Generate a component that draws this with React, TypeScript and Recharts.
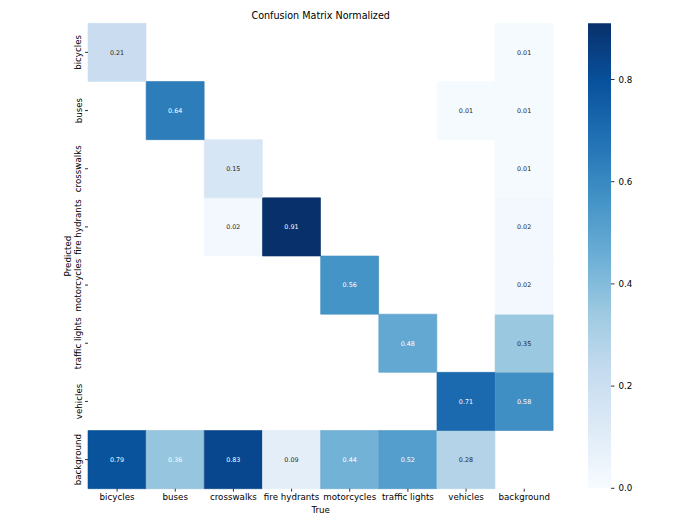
import { BarChart, Bar, XAxis, YAxis, Cell, LabelList } from 'recharts';

const trueLabels = ['bicycles', 'buses', 'crosswalks', 'fire hydrants', 'motorcycles', 'traffic lights', 'vehicles', 'background'];
const predLabels = ['bicycles', 'buses', 'crosswalks', 'fire hydrants', 'motorcycles', 'traffic lights', 'vehicles', 'background'];

// one row per predicted class, columns follow trueLabels
const bicyclesRow = [0.21, 0, 0, 0, 0, 0, 0, 0.01];
const busesRow = [0, 0.64, 0, 0, 0, 0, 0.01, 0.01];
const crosswalksRow = [0, 0, 0.15, 0, 0, 0, 0, 0.01];
const fireHydrantsRow = [0, 0, 0.02, 0.91, 0, 0, 0, 0.02];
const motorcyclesRow = [0, 0, 0, 0, 0.56, 0, 0, 0.02];
const trafficLightsRow = [0, 0, 0, 0, 0, 0.48, 0, 0.35];
const vehiclesRow = [0, 0, 0, 0, 0, 0, 0.71, 0.58];
const backgroundRow = [0.79, 0.36, 0.83, 0.09, 0.44, 0.52, 0.28, 0];

const matrix = [bicyclesRow, busesRow, crosswalksRow, fireHydrantsRow, motorcyclesRow, trafficLightsRow, vehiclesRow, backgroundRow];

const colorMax = 0.91;
const colorTicks = [0, 0.2, 0.4, 0.6, 0.8];
const lightTextBelow = 0.355;

// matplotlib "Blues"
const blues = ['#f7fbff', '#deebf7', '#c6dbef', '#9ecae1', '#6baed6', '#4292c6', '#2171b5', '#08519c', '#08306b'];

const FONT = '"DejaVu Sans", sans-serif';

function hexToRgb(h: string) {
  return [1, 3, 5].map((i) => parseInt(h.slice(i, i + 2), 16));
}

function blueColor(v: number, shade = 1) {
  const t = Math.max(0, Math.min(1, v / colorMax)) * (blues.length - 1);
  const i = Math.min(Math.floor(t), blues.length - 2);
  const f = t - i;
  const a = hexToRgb(blues[i]);
  const b = hexToRgb(blues[i + 1]);
  const c = a.map((x, k) => Math.round((x + (b[k] - x) * f) * shade));
  return `rgb(${c[0]},${c[1]},${c[2]})`;
}

// each column is one category, every row stacked as a unit block
const heatData = trueLabels.map((name) => {
  const d: Record<string, string | number> = { name };
  predLabels.forEach((_, i) => {
    d[`r${i}`] = 1;
  });
  return d;
});

const yTicks = predLabels.map((_, i) => predLabels.length - i - 0.5);

const XTick = (props: any) => {
  const { x, y, payload } = props;
  return (
    <text x={x} y={y + 6} textAnchor="middle" fontSize={8.7} fontFamily={FONT} fill="#000">
      {payload.value}
    </text>
  );
};

const YTick = (props: any) => {
  const { x, y, payload } = props;
  const label = predLabels[predLabels.length - 1 - Math.floor(payload.value)];
  return (
    <text x={x} y={y} transform={`rotate(-90 ${x} ${y})`} textAnchor="middle" fontSize={8.7} fontFamily={FONT} fill="#000">
      {label}
    </text>
  );
};

const rowOrder = predLabels.map((_, i) => predLabels.length - 1 - i);

export default function App() {
  return (
    <div style={{ position: 'absolute', left: 0, top: 0, width: 700, height: 525, background: '#fff' }}>
      <div style={{ position: 'absolute', left: 0, top: 0 }}>
        <BarChart
          width={700}
          height={525}
          data={heatData}
          margin={{ top: 23.3, right: 146.7, bottom: 6.3, left: 58 }}
          barCategoryGap={0}
          barGap={0}
        >
          <XAxis
            dataKey="name"
            height={30}
            axisLine={false}
            tickSize={3}
            tickMargin={2}
            tickLine={{ stroke: '#000', strokeWidth: 0.8 }}
            tick={<XTick />}
            interval={0}
          />
          <YAxis
            type="number"
            domain={[0, 8]}
            ticks={yTicks}
            width={30}
            axisLine={false}
            tickSize={3}
            tickMargin={3.5}
            tickLine={{ stroke: '#000', strokeWidth: 0.8 }}
            tick={<YTick />}
            interval={0}
          />
          {rowOrder.map((i) => (
            <Bar key={i} dataKey={`r${i}`} stackId="cm" isAnimationActive={false}>
              {matrix[i].map((v, j) => (
                <Cell
                  key={j}
                  fill={v > 0 ? blueColor(v) : 'none'}
                  stroke={v > 0.3 ? blueColor(v, 0.95) : v > 0 ? blueColor(v) : 'none'}
                  strokeWidth={v > 0 ? 0.6 : 0}
                />
              ))}
              <LabelList
                dataKey={`r${i}`}
                content={(p: any) => {
                  const v = matrix[i][p.index];
                  if (!v) return null;
                  return (
                    <text
                      x={p.x + p.width / 2}
                      y={p.y + p.height / 2}
                      dy={2.3}
                      textAnchor="middle"
                      fontSize={6.4}
                      fontFamily={FONT}
                      fill={v > lightTextBelow ? '#ffffff' : '#262626'}
                    >
                      {v.toFixed(2)}
                    </text>
                  );
                }}
              />
            </Bar>
          ))}
        </BarChart>
      </div>

      <div style={{ position: 'absolute', left: 588, top: 0 }}>
        <BarChart
          width={80}
          height={525}
          data={[{ name: 'scale', v: colorMax }]}
          margin={{ top: 23.3, right: 12, bottom: 36.7, left: 0 }}
          barCategoryGap={0}
        >
          <defs>
            <linearGradient id="bluesGrad" x1="0" y1="1" x2="0" y2="0">
              {blues.map((c, k) => (
                <stop key={k} offset={k / (blues.length - 1)} stopColor={c} />
              ))}
            </linearGradient>
          </defs>
          <XAxis dataKey="name" hide />
          <YAxis
            orientation="right"
            type="number"
            domain={[0, colorMax]}
            ticks={colorTicks}
            width={45}
            axisLine={false}
            tickSize={3.5}
            tickMargin={4}
            tickLine={{ stroke: '#000', strokeWidth: 0.8 }}
            tick={{ fontSize: 8.7, fontFamily: FONT, fill: '#000' }}
            tickFormatter={(v: number) => v.toFixed(1)}
          />
          <Bar dataKey="v" fill="url(#bluesGrad)" isAnimationActive={false} />
        </BarChart>
      </div>

      <svg width={700} height={525} style={{ position: 'absolute', left: 0, top: 0, pointerEvents: 'none' }}>
        <text x={320.7} y={18.7} textAnchor="middle" fontSize={9.6} fontFamily={FONT} fill="#000">
          Confusion Matrix Normalized
        </text>
        <text x={320.7} y={513} textAnchor="middle" fontSize={8.7} fontFamily={FONT} fill="#000">
          True
        </text>
        <text x={70.5} y={256} transform="rotate(-90 70.5 256)" textAnchor="middle" fontSize={8.7} fontFamily={FONT} fill="#000">
          Predicted
        </text>
      </svg>
    </div>
  );
}
